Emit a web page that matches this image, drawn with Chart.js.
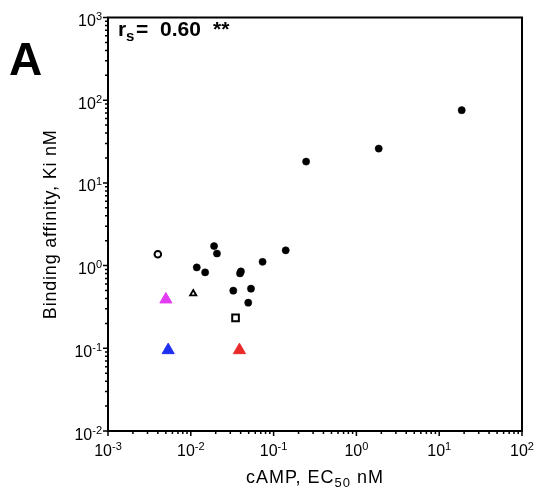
<!DOCTYPE html>
<html>
<head>
<meta charset="utf-8">
<script src="https://cdn.jsdelivr.net/npm/chart.js@4"></script>
<style>
  html, body { margin: 0; padding: 0; background: #fff; }
  canvas { display: block; }
</style>
</head>
<body>
<canvas id="corrChart" width="538" height="496"></canvas>
<script>
// values (EC50 in nM, Ki in nM)
const filledEC50 = [0.0118, 0.0149, 0.0191, 0.0207, 0.0326, 0.0393, 0.0403, 0.0494, 0.0533, 0.0736, 0.14, 0.247, 1.86, 18.7];
const filledKi   = [0.95, 0.828, 1.72, 1.40, 0.498, 0.805, 0.85, 0.356, 0.526, 1.11, 1.53, 18.1, 26, 75.7];

const openCircleEC50 = [0.0040];
const openCircleKi   = [1.37];
const openTriEC50 = [0.0107];
const openTriKi   = [0.458];
const openSquareEC50 = [0.0347];
const openSquareKi   = [0.233];

const magentaEC50 = [0.0050];
const magentaKi   = [0.39];
const blueEC50 = [0.00533];
const blueKi   = [0.095];
const redEC50 = [0.0387];
const redKi   = [0.095];

const xExponents = [-3, -2, -1, 0, 1, 2];
const yExponents = [-2, -1, 0, 1, 2, 3];

const xTitle = ['cAMP, EC', '50', ' nM'];
const yTitle = 'Binding affinity, Ki nM';
const panelLetter = 'A';
const corrText = ['r', 's', '=', '0.60', '**'];

const FONT = '"Liberation Sans", Arial, sans-serif';

function pts(xs, ys) {
  return xs.map((x, i) => ({ x: x, y: ys[i] }));
}

function powWidth(ctx, exp) {
  ctx.font = '16px ' + FONT;
  const w1 = ctx.measureText('10').width;
  ctx.font = '11px ' + FONT;
  return w1 + ctx.measureText(String(exp)).width;
}

function drawPow(ctx, exp, x, y) {
  ctx.textAlign = 'left';
  ctx.textBaseline = 'alphabetic';
  ctx.font = '16px ' + FONT;
  ctx.fillText('10', x, y);
  const w1 = ctx.measureText('10').width;
  ctx.font = '11px ' + FONT;
  ctx.fillText(String(exp), x + w1, y - 6);
}

const framePlugin = {
  id: 'frame',
  beforeDatasetsDraw(chart) {
    const ctx = chart.ctx;
    const a = chart.chartArea;
    const xs = chart.scales.x;
    const ys = chart.scales.y;
    ctx.save();
    ctx.strokeStyle = '#000';
    ctx.lineWidth = 2;
    ctx.strokeRect(a.left, a.top, a.right - a.left, a.bottom - a.top);

    ctx.lineWidth = 1.5;
    ctx.beginPath();
    // x ticks
    xExponents.forEach((e, i) => {
      const px = xs.getPixelForValue(Math.pow(10, e));
      ctx.moveTo(px, a.bottom);
      ctx.lineTo(px, a.bottom + 5);
      if (i < xExponents.length - 1) {
        for (let k = 2; k <= 9; k++) {
          const mx = xs.getPixelForValue(k * Math.pow(10, e));
          ctx.moveTo(mx, a.bottom);
          ctx.lineTo(mx, a.bottom + 3);
        }
      }
    });
    // y ticks
    yExponents.forEach((e, i) => {
      const py = ys.getPixelForValue(Math.pow(10, e));
      ctx.moveTo(a.left, py);
      ctx.lineTo(a.left - 5, py);
      if (i < yExponents.length - 1) {
        for (let k = 2; k <= 9; k++) {
          const my = ys.getPixelForValue(k * Math.pow(10, e));
          ctx.moveTo(a.left, my);
          ctx.lineTo(a.left - 3, my);
        }
      }
    });
    ctx.stroke();
    ctx.restore();
  },
  afterDraw(chart) {
    const ctx = chart.ctx;
    const a = chart.chartArea;
    const xs = chart.scales.x;
    const ys = chart.scales.y;
    ctx.save();
    ctx.fillStyle = '#000';

    // tick labels
    xExponents.forEach(e => {
      const px = xs.getPixelForValue(Math.pow(10, e));
      const w = powWidth(ctx, e);
      drawPow(ctx, e, px - w / 2, a.bottom + 25);
    });
    yExponents.forEach(e => {
      const py = ys.getPixelForValue(Math.pow(10, e));
      const w = powWidth(ctx, e);
      drawPow(ctx, e, a.left - 6 - w, py + 8.5);
    });

    // x title with subscript
    ctx.textBaseline = 'alphabetic';
    ctx.textAlign = 'left';
    ctx.letterSpacing = '1px';
    ctx.font = '18px ' + FONT;
    const t1 = ctx.measureText(xTitle[0]).width;
    const t3 = ctx.measureText(xTitle[2]).width;
    ctx.font = '13px ' + FONT;
    const t2 = ctx.measureText(xTitle[1]).width;
    let tx = (a.left + a.right) / 2 - (t1 + t2 + t3) / 2;
    const ty = 483;
    ctx.font = '18px ' + FONT;
    ctx.fillText(xTitle[0], tx, ty);
    ctx.font = '13px ' + FONT;
    ctx.fillText(xTitle[1], tx + t1, ty + 4);
    ctx.font = '18px ' + FONT;
    ctx.fillText(xTitle[2], tx + t1 + t2, ty);

    // y title
    ctx.save();
    ctx.letterSpacing = '0.8px';
    ctx.translate(56, (a.top + a.bottom) / 2);
    ctx.rotate(-Math.PI / 2);
    ctx.textAlign = 'center';
    ctx.font = '18px ' + FONT;
    ctx.fillText(yTitle, 0, 0);
    ctx.restore();
    ctx.letterSpacing = '0px';

    // panel letter
    ctx.textAlign = 'left';
    ctx.font = 'bold 46px ' + FONT;
    ctx.fillText(panelLetter, 9, 75);

    // correlation text
    ctx.font = 'bold 21px ' + FONT;
    ctx.fillText(corrText[0], a.left + 10, 36);
    ctx.font = 'bold 15px ' + FONT;
    ctx.fillText(corrText[1], a.left + 18, 41);
    ctx.font = 'bold 21px ' + FONT;
    ctx.fillText(corrText[2], a.left + 28, 36);
    ctx.fillText(corrText[3], a.left + 52, 36);
    ctx.fillText(corrText[4], a.left + 105, 36);

    ctx.restore();
  }
};

const ctx = document.getElementById('corrChart');

new Chart(ctx, {
  type: 'scatter',
  data: {
    datasets: [
      {
        label: 'filled',
        data: pts(filledEC50, filledKi),
        pointStyle: 'circle',
        pointRadius: 3.6,
        backgroundColor: '#000',
        borderColor: '#000',
        borderWidth: 0.5
      },
      {
        label: 'open circle',
        data: pts(openCircleEC50, openCircleKi),
        pointStyle: 'circle',
        pointRadius: 3.3,
        backgroundColor: '#fff',
        borderColor: '#000',
        borderWidth: 2
      },
      {
        label: 'open triangle',
        data: pts(openTriEC50, openTriKi),
        pointStyle: 'triangle',
        pointRadius: 3.6,
        backgroundColor: '#fff',
        borderColor: '#000',
        borderWidth: 1.8
      },
      {
        label: 'open square',
        data: pts(openSquareEC50, openSquareKi),
        pointStyle: 'rect',
        pointRadius: 4.7,
        backgroundColor: '#fff',
        borderColor: '#000',
        borderWidth: 2
      },
      {
        label: 'magenta',
        data: pts(magentaEC50, magentaKi),
        pointStyle: 'triangle',
        pointRadius: 7,
        backgroundColor: '#e23cf2',
        borderColor: '#e23cf2',
        borderWidth: 1
      },
      {
        label: 'blue',
        data: pts(blueEC50, blueKi),
        pointStyle: 'triangle',
        pointRadius: 7,
        backgroundColor: '#1f2ff0',
        borderColor: '#1f2ff0',
        borderWidth: 1
      },
      {
        label: 'red',
        data: pts(redEC50, redKi),
        pointStyle: 'triangle',
        pointRadius: 7,
        backgroundColor: '#ea2a2a',
        borderColor: '#ea2a2a',
        borderWidth: 1
      }
    ]
  },
  options: {
    responsive: false,
    animation: false,
    layout: {
      padding: { left: 108, right: 16, top: 17.5, bottom: 65 }
    },
    plugins: {
      legend: { display: false },
      tooltip: { enabled: false }
    },
    scales: {
      x: {
        type: 'logarithmic',
        min: 0.001,
        max: 100,
        display: false
      },
      y: {
        type: 'logarithmic',
        min: 0.01,
        max: 1000,
        display: false
      }
    }
  },
  plugins: [framePlugin]
});
</script>
</body>
</html>
